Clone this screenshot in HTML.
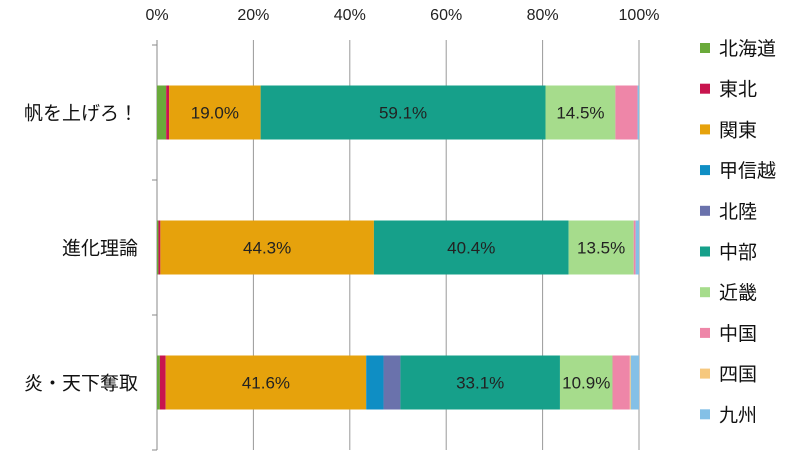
<!DOCTYPE html>
<html><head><meta charset="utf-8"><style>
body{margin:0;background:#fff;}
svg{display:block;font-family:"Liberation Sans","Noto Sans CJK JP",sans-serif;}
</style></head><body>
<svg id="chart" width="800" height="468"></svg>
<script>
const categories = ["帆を上げろ！","進化理論","炎・天下奪取"];
const regions = ["北海道","東北","関東","甲信越","北陸","中部","近畿","中国","四国","九州"];
const colors = ["#6aaa3a","#c8154e","#e6a20c","#0f8ec4","#6a72ac","#16a08a","#a6dc8c","#ee86a8","#f6c87e","#84c0e6"];
const seriesHokkaido = [1.9,0.3,0.6];
const seriesTohoku   = [0.6,0.4,1.2];
const seriesKanto    = [19.0,44.3,41.6];
const seriesKoshinetsu=[0,0,3.6];
const seriesHokuriku = [0,0,3.5];
const seriesChubu    = [59.1,40.4,33.1];
const seriesKinki    = [14.5,13.5,10.9];
const seriesChugoku  = [4.6,0.4,3.6];
const seriesShikoku  = [0,0,0.2];
const seriesKyushu   = [0.3,0.7,1.7];
const tickLabels = ["0%","20%","40%","60%","80%","100%"];
const tickValues = [0,20,40,60,80,100];
const series = [seriesHokkaido,seriesTohoku,seriesKanto,seriesKoshinetsu,seriesHokuriku,seriesChubu,seriesKinki,seriesChugoku,seriesShikoku,seriesKyushu];

const NS="http://www.w3.org/2000/svg";
const svg=document.getElementById('chart');
const x0=157,x1=639,yTop=45,yBot=450;
const xScale=v=>x0+(x1-x0)*v/100;
const band=(yBot-yTop)/categories.length;
const yBand=i=>yTop+band*i;
const barH=54;
function mk(t,a){const e=document.createElementNS(NS,t);for(const k in a)e.setAttribute(k,a[k]);svg.appendChild(e);return e;}

tickValues.forEach((v,i)=>{
  const g=mk('line',{x1:xScale(v),x2:xScale(v),y1:yTop-5,y2:yBot,stroke:'#999','stroke-width':1});
  
  
  const t=mk('text',{x:xScale(v),y:20,'text-anchor':'middle','font-size':16,fill:'#222'});
  t.textContent=tickLabels[i];
  
  
});
const ax=mk('line',{x1:x0,x2:x0,y1:yTop-5,y2:yBot,stroke:'#888'});


for(let i=0;i<=categories.length;i++){
  const tk=mk('line',{x1:x0-5,x2:x0,y1:yBand(i),y2:yBand(i),stroke:'#888'});
  
  
}
categories.forEach((c,i)=>{
  const cy=yBand(i)+band/2;
  const yb=cy-barH/2;
  let acc=0;
  series.forEach((s,j)=>{
    const v=s[i]; if(v<=0){return;}
    const r=mk('rect',{x:xScale(acc),y:yb,width:xScale(acc+v)-xScale(acc),height:barH,fill:colors[j]});
    
    
    if(v>=10){
      const t=mk('text',{x:(xScale(acc)+xScale(acc+v))/2,y:cy+6,'text-anchor':'middle','font-size':17,fill:'#222'});
      t.textContent=v.toFixed(1)+'%';
      
      
    }
    acc+=v;
  });
  const l=mk('text',{x:138,y:cy+7,'text-anchor':'end','font-size':19,fill:'#111'});
  l.textContent=c;
  
  
});
regions.forEach((r,j)=>{
  const y=48+j*40.7;
  const s=mk('rect',{x:700,y:y-5,width:10,height:10,fill:colors[j]});
  
  
  const t=mk('text',{x:719,y:y+7,'font-size':19,fill:'#111'});
  t.textContent=r;
  
  
});
</script>
</body></html>
